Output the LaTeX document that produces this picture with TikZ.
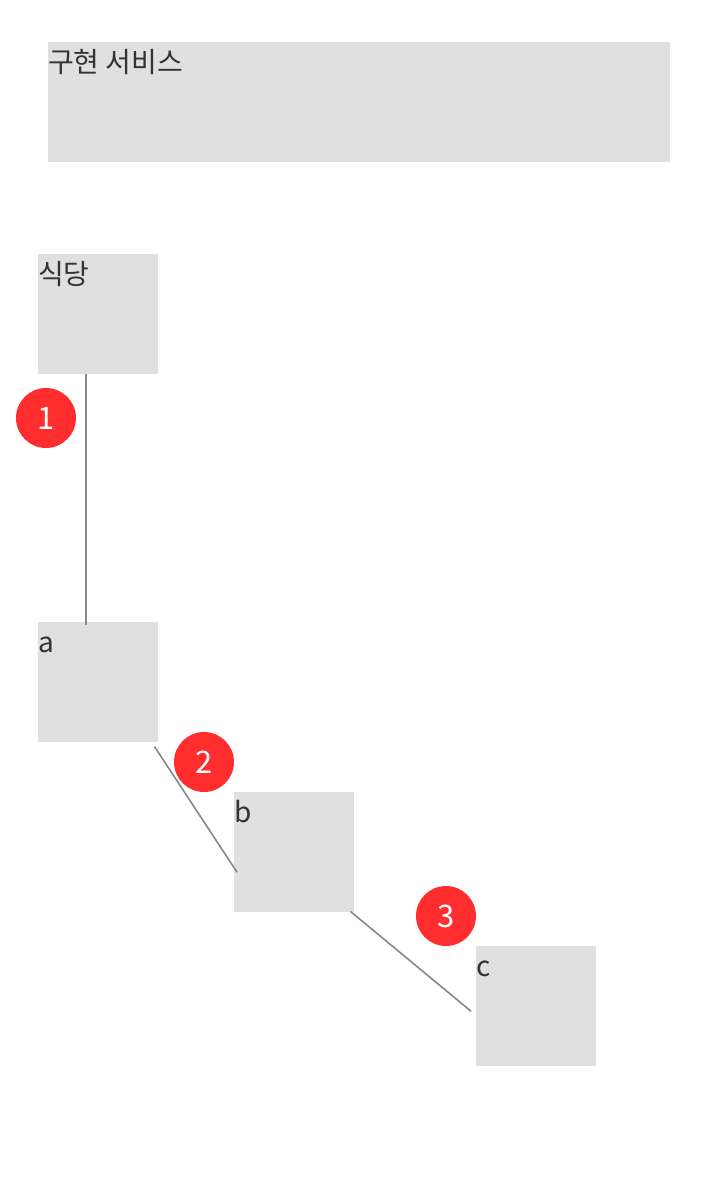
\documentclass[tikz,border=0pt]{standalone}
\usepackage{fontspec}
\setmainfont{Noto Sans CJK KR}
\usepackage{xcolor}
\usetikzlibrary{positioning, calc}
\definecolor{boxgray}{HTML}{E0E0E0}
\definecolor{textgray}{HTML}{333333}
\definecolor{linegray}{HTML}{888888}
\definecolor{badgered}{HTML}{FF2D2D}

\begin{document}
\begin{tikzpicture}[
    x=1pt, y=-1pt,
    block/.style={fill=boxgray, draw=none, anchor=north west, inner sep=0, minimum width=120pt, minimum height=120pt},
    caption/.style={anchor=north west, inner sep=0, text=textgray, font=\fontsize{28}{32}\selectfont, text height=30.5pt, text depth=6pt},
    badge/.style={circle, fill=badgered, text=white, minimum size=60pt, inner sep=0, font=\fontsize{31}{35}\selectfont},
    link/.style={draw=linegray, line width=1.6pt}
]
    \useasboundingbox (0,0) rectangle (720,1200);

    % Boxes
    \node[block, minimum width=622pt] (svc) at (48,42) {};
    \node[block] (restaurant) at (38,254) {};
    \node[block] (a) at (38,622) {};
    \node[block] (b) at (234,792) {};
    \node[block] (c) at (476,946) {};

    % Captions
    \node[caption] at (svc.north west) {구현 서비스};
    \node[caption] at (restaurant.north west) {식당};
    \node[caption] at (a.north west) {a};
    \node[caption] at (b.north west) {b};
    \node[caption] at (c.north west) {c};

    % Connectors
    \draw[link] ([xshift=-12pt]restaurant.south) -- ([shift={(-12pt,-3pt)}]a.north);
    \draw[link] ([shift={(-4pt,-4pt)}]a.south east) -- ([shift={(3pt,-20pt)}]b.west);
    \draw[link] ([shift={(-4pt,1pt)}]b.south east) -- ([shift={(-5pt,-5pt)}]c.west);

    % Badges
    \node[badge] (n1) at (46,418) {1};
    \node[badge] (n2) at (204,762) {2};
    \node[badge] (n3) at (446,916) {3};
\end{tikzpicture}
\end{document}
